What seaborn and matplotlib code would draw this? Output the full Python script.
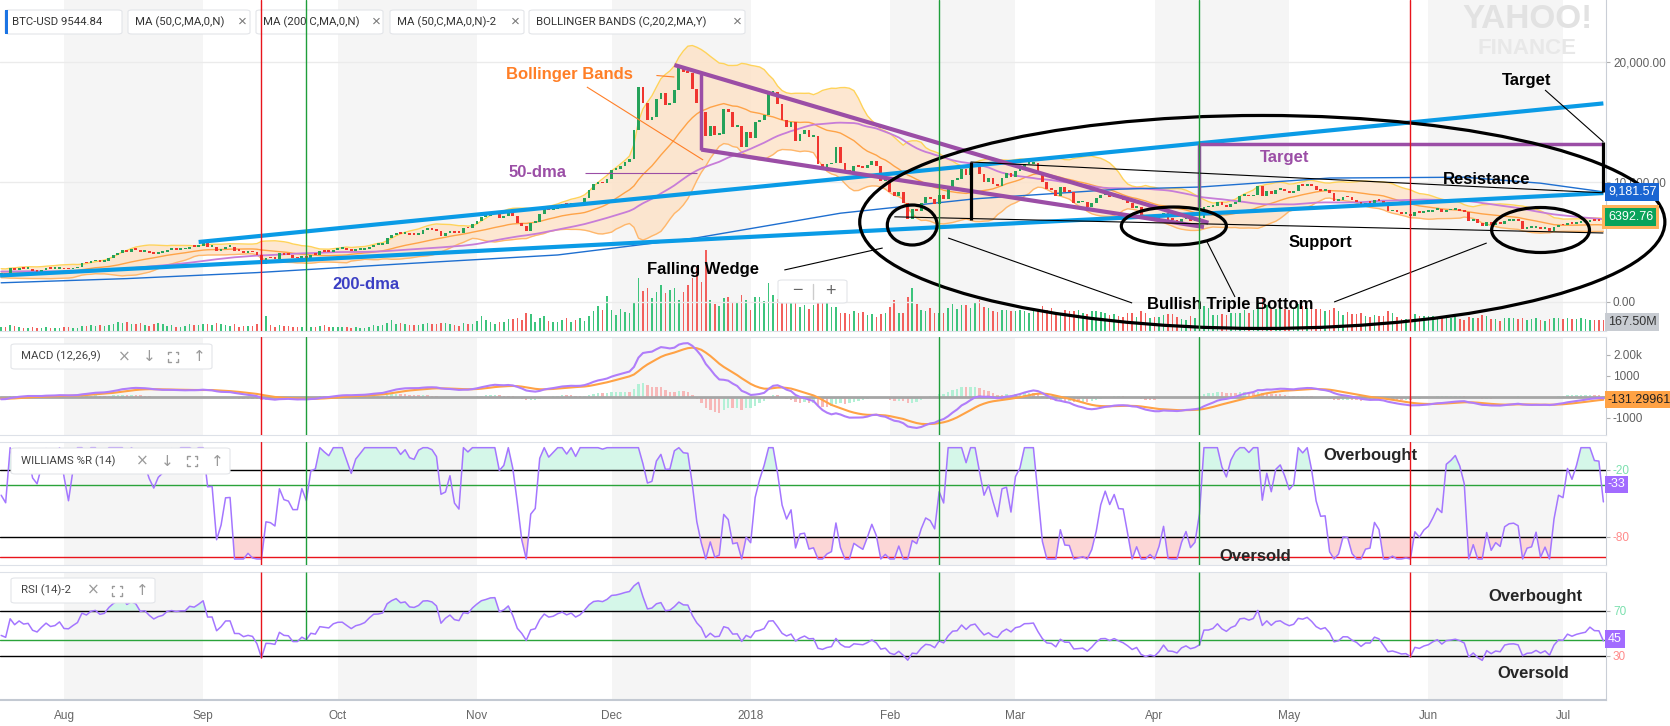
import numpy as np
import pandas as pd
import matplotlib
matplotlib.use("Agg")
import matplotlib.pyplot as plt
import matplotlib.dates as mdates
import matplotlib.transforms as mtransforms
from matplotlib.patches import Ellipse, FancyBboxPatch, Rectangle
import seaborn as sns

# daily closes (June / early July 2017 only warm up the indicators)
close_2017_06 = [2407, 2488, 2515, 2511, 2687, 2863, 2732, 2805, 2823, 2947, 2958, 2659, 2717, 2507, 2464,
                 2518, 2655, 2549, 2589, 2721, 2689, 2705, 2745, 2590, 2589, 2478, 2553, 2558, 2544, 2481]
close_2017_07 = [2434, 2507, 2565, 2601, 2602, 2609, 2481, 2560, 2507, 2330, 2309, 2406, 2358, 2233, 1998, 1930,
                 2228, 2319, 2273, 2817, 2667, 2810, 2730, 2755, 2576, 2529, 2671, 2810, 2726, 2758, 2875]
close_2017_08 = [2718, 2710, 2805, 2895, 3253, 3213, 3379, 3420, 3342, 3381, 3651, 3884, 4073, 4326, 4182, 4376,
                 4331, 4160, 4194, 4088, 4001, 4100, 4151, 4334, 4372, 4353, 4382, 4382, 4579, 4565, 4703]
close_2017_09 = [4892, 4579, 4582, 4237, 4377, 4597, 4599, 4229, 4226, 4123, 4162, 4130, 3882, 3155, 3637,
                 3626, 3583, 4066, 3925, 3906, 3631, 3630, 3792, 3682, 3927, 3892, 4209, 4185, 4164, 4338]
close_2017_10 = [4404, 4409, 4318, 4229, 4329, 4371, 4439, 4611, 4773, 4781, 4827, 5325, 5563, 5739, 5647, 5711,
                 5603, 5591, 5708, 6011, 6031, 6008, 5931, 5527, 5750, 5904, 5780, 5753, 6154, 6130, 6468]
close_2017_11 = [6767, 7078, 7207, 7379, 7407, 7022, 7144, 7460, 7143, 6618, 6357, 5950, 6559, 6635, 7316,
                 7871, 7708, 7790, 8036, 8201, 8072, 8244, 8064, 8260, 8696, 9331, 9819, 9917, 9888, 10233]
close_2017_12 = [10975, 11074, 11323, 11658, 11917, 14292, 17899, 16570, 15178, 15455, 16937, 17415, 16408, 16564,
                 17706, 19497, 19140, 19115, 17776, 16624, 15802, 13831, 14699, 13926, 14027, 16099, 15838, 14607,
                 14656, 12952, 14157]
close_2018_01 = [13657, 14982, 15201, 15599, 17430, 17527, 16477, 15170, 14595, 14973, 13405, 13981, 14360, 13773,
                 13819, 11490, 11188, 11474, 11607, 12899, 11600, 10931, 10868, 11359, 11259, 11171, 11441, 11787,
                 11296, 10106, 10221]
close_2018_02 = [9171, 8830, 9174, 8277, 6955, 7754, 7621, 8265, 8736, 8621, 8129, 8927, 8598, 9494, 10166,
                 10233, 11112, 10551, 11225, 11403, 10690, 10005, 10301, 9813, 9664, 10366, 10725, 10397]
close_2018_03 = [10951, 11086, 11489, 11512, 11573, 10779, 9965, 9395, 9337, 8866, 9578, 9205, 9194, 8269, 8300,
                 8338, 7916, 8223, 8630, 8913, 8929, 8729, 8879, 8668, 8495, 8209, 7834, 7954, 7165, 6891, 6973]
close_2018_04 = [6845, 7083, 7456, 6853, 6812, 6636, 6912, 7024, 6771, 6834, 6968, 7890, 7895, 8004, 8355,
                 8058, 7903, 8163, 8294, 8845, 8895, 8803, 8930, 9697, 8845, 9282, 8987, 9348, 9419, 9240]
close_2018_05 = [9119, 9235, 9744, 9700, 9859, 9655, 9373, 9234, 9325, 9043, 8441, 8504, 8723, 8716, 8510, 8368,
                 8094, 8250, 8247, 8514, 8419, 8042, 7557, 7587, 7480, 7355, 7368, 7136, 7473, 7406, 7494]
close_2018_06 = [7541, 7644, 7720, 7514, 7633, 7653, 7679, 7624, 7531, 6786, 6906, 6582, 6349, 6675, 6456,
                 6550, 6499, 6734, 6770, 6777, 6730, 6083, 6163, 6173, 6250, 6094, 6157, 5904, 6218, 6404]
close_2018_07 = [6385, 6614, 6529, 6598, 6639, 6673, 6857, 6747, 6742, 6392.76]

# daily volume (bar heights)
vol_2017_07 = [1.1, 1.0, 1.6, 1.3, 1.0, 0.8, 0.8, 1.2, 0.9, 0.9, 1.2, 0.9, 0.8, 0.9]
vol_2017_08 = [1.1, 1.0, 0.9, 0.9, 1.4, 1.3, 1.6, 1.3, 1.7, 1.4, 1.7, 1.9, 2.5, 2.3, 2.6, 2.0, 2.0, 2.1, 1.6,
               1.5, 2.0, 2.2, 1.8, 1.4, 1.6, 1.2, 1.1, 1.4, 1.8, 1.6, 1.7]
vol_2017_09 = [1.8, 2.0, 1.7, 2.3, 2.0, 1.6, 1.4, 1.8, 1.1, 1.3, 1.4, 1.5, 1.9, 2.3, 4.1, 1.6, 1.2, 1.6, 1.4,
               1.3, 1.2, 1.0, 1.0, 0.8, 1.0, 1.1, 1.4, 1.6, 1.2, 1.1]
vol_2017_10 = [1.2, 1.2, 1.1, 0.9, 1.0, 0.9, 0.8, 1.1, 1.6, 1.4, 1.6, 2.1, 2.9, 1.9, 2.1, 2.0, 1.7, 1.6, 1.7,
               2.0, 2.2, 1.8, 1.9, 2.3, 2.2, 1.9, 1.7, 1.3, 2.3, 1.8, 2.0]
vol_2017_11 = [2.7, 4.0, 2.9, 2.6, 2.0, 2.6, 2.5, 3.4, 3.2, 3.7, 3.1, 5.0, 4.7, 2.6, 3.7, 4.0, 2.8, 2.4, 2.6,
               3.1, 3.7, 2.6, 3.1, 3.5, 2.8, 4.0, 5.4, 6.8, 5.8, 9.6]
vol_2017_12 = [5.8, 4.3, 5.9, 5.3, 5.0, 7.8, 14.6, 11.1, 11.8, 9.1, 10.7, 12.5, 10.3, 11.3, 11.9, 8.4, 10.8,
               12.6, 14.4, 17.5, 13.3, 22.2, 8.5, 7.5, 6.8, 9.0, 9.3, 7.7, 7.6, 9.8, 8.4]
vol_2018_01 = [5.7, 9.2, 9.3, 8.3, 13.1, 9.9, 8.7, 10.4, 9.2, 10.1, 9.1, 6.7, 7.0, 6.1, 7.0, 10.4, 11.1, 7.8,
               6.7, 6.7, 5.0, 5.0, 4.7, 5.4, 4.9, 5.3, 4.3, 4.7, 3.9, 4.7, 4.8]
vol_2018_02 = [6.5, 8.6, 5.0, 4.8, 9.3, 11.8, 7.4, 5.8, 5.5, 6.3, 4.9, 4.9, 5.0, 6.4, 7.4, 5.9, 7.1, 7.2, 6.3,
               7.7, 8.4, 6.5, 6.3, 5.6, 5.1, 5.7, 5.8, 5.6]
vol_2018_03 = [5.6, 5.8, 5.6, 4.9, 5.6, 5.7, 6.9, 5.7, 6.4, 5.1, 5.0, 5.8, 5.4, 5.5, 5.7, 4.8, 4.6, 5.5, 5.6,
               5.2, 4.9, 4.5, 4.6, 4.2, 3.9, 4.8, 4.8, 3.8, 5.4, 5.0, 3.5]
vol_2018_04 = [3.8, 3.8, 4.5, 4.6, 4.6, 3.8, 3.2, 3.0, 4.1, 3.7, 4.1, 6.8, 6.3, 4.5, 4.5, 4.6, 4.4, 4.8, 4.8,
               5.0, 5.8, 4.9, 5.7, 8.2, 9.0, 7.2, 5.9, 5.9, 6.2, 6.0]
vol_2018_05 = [5.7, 6.2, 7.5, 6.8, 6.3, 5.9, 6.0, 6.0, 5.6, 5.7, 6.3, 5.4, 4.3, 5.1, 4.7, 4.6, 4.8, 4.2, 3.8,
               4.5, 4.2, 4.0, 5.4, 4.8, 3.8, 3.2, 3.2, 4.1, 4.7, 4.1, 4.2]
vol_2018_06 = [4.0, 4.0, 3.7, 3.9, 4.0, 3.7, 3.8, 3.3, 3.1, 3.9, 3.7, 3.7, 4.5, 4.1, 3.2, 3.2, 2.8, 3.7, 3.7,
               3.7, 3.2, 3.7, 3.0, 3.3, 3.5, 3.1, 2.8, 3.2, 3.7, 3.7]
vol_2018_07 = [3.3, 3.6, 3.3, 3.3, 3.5, 3.2, 3.0, 2.9, 2.9, 3.1]

# 200-dma
ma200_dates = ["2017-07-18", "2017-08-15", "2017-09-13", "2017-10-15", "2017-11-19", "2017-12-20",
               "2018-01-21", "2018-02-20", "2018-03-24", "2018-04-11", "2018-05-10", "2018-06-09",
               "2018-06-26", "2018-07-10"]
ma200_values = [1600, 1950, 2450, 3170, 3920, 5350, 7400, 8600, 9400, 9580, 10330, 10400, 9900, 9180]

months = ["Aug", "Sep", "Oct", "Nov", "Dec", "2018", "Feb", "Mar", "Apr", "May", "Jun", "Jul"]
month_starts = ["2017-08-01", "2017-09-01", "2017-10-01", "2017-11-01", "2017-12-01", "2018-01-01",
                "2018-02-01", "2018-03-01", "2018-04-01", "2018-05-01", "2018-06-01", "2018-07-01"]
shaded = [("2017-08-01", "2017-09-01"), ("2017-10-01", "2017-11-01"), ("2017-12-01", "2018-01-01"),
          ("2018-02-01", "2018-03-01"), ("2018-04-01", "2018-05-01"), ("2018-06-01", "2018-07-01")]


def daily(blocks):
    return pd.concat([pd.Series(v, index=pd.date_range(s, periods=len(v), freq="D")) for s, v in blocks])


close = daily([("2017-06-01", close_2017_06), ("2017-07-01", close_2017_07), ("2017-08-01", close_2017_08),
               ("2017-09-01", close_2017_09), ("2017-10-01", close_2017_10), ("2017-11-01", close_2017_11),
               ("2017-12-01", close_2017_12), ("2018-01-01", close_2018_01), ("2018-02-01", close_2018_02),
               ("2018-03-01", close_2018_03), ("2018-04-01", close_2018_04), ("2018-05-01", close_2018_05),
               ("2018-06-01", close_2018_06), ("2018-07-01", close_2018_07)]).astype(float)
volume = daily([("2017-07-18", vol_2017_07), ("2017-08-01", vol_2017_08), ("2017-09-01", vol_2017_09),
                ("2017-10-01", vol_2017_10), ("2017-11-01", vol_2017_11), ("2017-12-01", vol_2017_12),
                ("2018-01-01", vol_2018_01), ("2018-02-01", vol_2018_02), ("2018-03-01", vol_2018_03),
                ("2018-04-01", vol_2018_04), ("2018-05-01", vol_2018_05), ("2018-06-01", vol_2018_06),
                ("2018-07-01", vol_2018_07)])

# indicators
df = pd.DataFrame({"close": close})
df["open"] = df["close"].shift(1)
df["ma50"] = df["close"].rolling(50, min_periods=1).mean()
df["bb_mid"] = df["close"].rolling(20).mean()
sd = df["close"].rolling(20).std(ddof=0)
df["bb_up"] = df["bb_mid"] + 2 * sd
df["bb_lo"] = df["bb_mid"] - 2 * sd
macd = df["close"].ewm(span=12, adjust=False).mean() - df["close"].ewm(span=26, adjust=False).mean()
df["macd"] = macd
df["signal"] = macd.ewm(span=9, adjust=False).mean()
df["hist"] = df["macd"] - df["signal"]
delta = df["close"].diff()
gain = delta.clip(lower=0).ewm(alpha=1 / 14, adjust=False).mean()
loss = (-delta.clip(upper=0)).ewm(alpha=1 / 14, adjust=False).mean()
df["rsi"] = 100 - 100 / (1 + gain / loss)
hi14 = df["close"].rolling(14).max()
lo14 = df["close"].rolling(14).min()
df["wr"] = (hi14 - df["close"]) / (hi14 - lo14) * -100
df = df.loc["2017-07-18":].copy()
df["volume"] = volume.reindex(df.index)

x = mdates.date2num(df.index.to_pydatetime())
up = (df["close"] >= df["open"]).values


def dn(s):
    return mdates.date2num(pd.Timestamp(s))


sns.set_style("white")
plt.rcParams["font.family"] = ["Liberation Sans", "DejaVu Sans"]

W, H = 1670, 726
fig = plt.figure(figsize=(W / 100, H / 100), dpi=100)


def fx(px):
    return px / W


def fy(py):
    return 1 - py / H


def panel(top, bottom):
    return fig.add_axes([0, 1 - bottom / H, 1606 / W, (bottom - top) / H])


ax_p = panel(0, 331)
ax_v = ax_p.twinx()
ax_m = panel(337, 435)
ax_w = panel(442, 565)
ax_r = panel(572, 700)
ax_v.set_zorder(0)
ax_p.set_zorder(1)
ax_p.patch.set_visible(False)

x_left = dn("2017-08-01") - 64 / 4.488
x_right = dn("2017-08-01") + (1606 - 64) / 4.488

for ax in (ax_v, ax_m, ax_w, ax_r):
    for a, b in shaded:
        ax.axvspan(dn(a), dn(b), color="#f5f5f5", lw=0, zorder=0)

for ax in (ax_p, ax_v, ax_m, ax_w, ax_r):
    ax.set_xlim(x_left, x_right)
    ax.set_xticks([])
    for s in ("left", "top"):
        ax.spines[s].set_visible(False)
    ax.spines["right"].set_color("#c9ced6")
    ax.spines["bottom"].set_color("#dde1e8")
for ax in (ax_m, ax_w, ax_r):
    ax.spines["top"].set_visible(True)
    ax.spines["top"].set_color("#dde1e8")
ax_v.spines["bottom"].set_visible(False)
ax_v.spines["right"].set_visible(False)


def line(ax, xs, ys, color, lw, z=3):
    sns.lineplot(x=xs, y=np.asarray(ys, dtype=float), ax=ax, color=color, linewidth=lw,
                 estimator=None, sort=False, legend=False, zorder=z)


# ---- price panel
for lvl in (0, 10000, 20000):
    ax_p.axhline(lvl, color="#ebebeb", lw=1, zorder=0.5)

ax_p.fill_between(x, df["bb_lo"], df["bb_up"], color="#fde3c9", alpha=0.85, lw=0, zorder=1)
line(ax_p, x, df["bb_up"], "#ffd35a", 1.0, 2)
line(ax_p, x, df["bb_lo"], "#ffb76b", 1.0, 2)
line(ax_p, x, df["bb_mid"], "#ffa347", 1.0, 2)
line(ax_p, x, df["ma50"], "#c77dd8", 1.3, 2)
line(ax_p, mdates.date2num(pd.to_datetime(ma200_dates).to_pydatetime()), ma200_values, "#1e6fd0", 1.0, 2)

body_lo = df[["open", "close"]].min(axis=1)
body_h = (df["close"] - df["open"]).abs().clip(lower=150)
ax_p.bar(x, body_h, bottom=body_lo, width=0.62, color=np.where(up, "#25a25a", "#f0352f"), lw=0, zorder=4)

ax_v.bar(x, df["volume"], width=0.35, color=np.where(up, "#3cc47c", "#f2605c"), lw=0, zorder=1)
ax_v.set_ylim(0, 22.2 * 331 / 81)
ax_v.set_yticks([])

ax_p.set_ylim((302 - 331) / 0.012, 302 / 0.012)
ax_p.yaxis.tick_right()
ax_p.set_yticks([0, 10000, 20000])
ax_p.set_yticklabels(["0.00", "10,000.00", "20,000.00"])

BLUE = "#0a9be6"
PURPLE = "#9b4ea6"


def seg(ax, p1, p2, color="black", lw=0.8, z=6):
    ax.plot([dn(p1[0]), dn(p2[0])], [p1[1], p2[1]], color=color, lw=lw, zorder=z,
            solid_capstyle="butt", clip_on=False)


# trend channel
seg(ax_p, ("2017-08-31", 5000), ("2018-07-10", 16550), BLUE, 3.0, 5)
seg(ax_p, ("2017-07-17 18:00", 2210), ("2018-07-10", 9080), BLUE, 3.0, 5)
# falling wedge
seg(ax_p, ("2017-12-15", 19750), ("2018-04-13", 6600), PURPLE, 3.0, 5)
seg(ax_p, ("2017-12-21", 12700), ("2018-04-12", 6250), PURPLE, 3.0, 5)
seg(ax_p, ("2017-12-21", 12700), ("2017-12-21", 19000), PURPLE, 2.5, 5)
# measured move target
seg(ax_p, ("2018-04-11", 7900), ("2018-04-11", 13140), PURPLE, 2.5, 5)
seg(ax_p, ("2018-04-11", 13140), ("2018-07-10", 13140), PURPLE, 2.5, 5)
seg(ax_p, ("2018-07-10", 9150), ("2018-07-10", 13350), "black", 2.3)
seg(ax_p, ("2018-02-19", 6833), ("2018-02-19", 11667), "black", 2.3)
# resistance / support
seg(ax_p, ("2018-02-19", 11667), ("2018-07-10", 9100))
seg(ax_p, ("2018-02-02", 7100), ("2018-07-10", 5750))
# leaders
seg(ax_p, ("2018-06-27", 17667), ("2018-07-10", 13350))
seg(ax_p, ("2018-01-08 12:00", 2667), ("2018-01-30 10:00", 4500))
seg(ax_p, ("2018-02-14", 5333), ("2018-03-27", -83))
seg(ax_p, ("2018-04-12 17:00", 5000), ("2018-04-18 22:00", 417))
seg(ax_p, ("2018-05-11", 0), ("2018-06-14", 4917))
seg(ax_p, ("2017-12-11", 18875), ("2017-12-15", 18750), "#ff7f27", 0.8)
seg(ax_p, ("2017-11-25 12:00", 17917), ("2017-12-21 10:00", 11833), "#ff7f27", 0.8)
seg(ax_p, ("2017-11-25", 10750), ("2017-12-20", 10750), PURPLE, 0.8)

for cx, cy, w, h in [("2018-02-06", 6417, 11.1, 3333), ("2018-04-25", 6670, 179.4, 17750),
                     ("2018-04-05 07:00", 6333, 23.4, 3167), ("2018-06-26", 6000, 21.8, 3750)]:
    ax_p.add_patch(Ellipse((dn(cx), cy), w, h, fill=False, ec="black", lw=2.3, zorder=6, clip_on=False))

labels = [("Bollinger Bands", "2017-11-21 17:00", 18917, "#ff7f27"),
          ("50-dma", "2017-11-14 14:00", 10833, PURPLE),
          ("200-dma", "2017-10-07 07:00", 1417, "#3b3fc4"),
          ("Falling Wedge", "2017-12-21 10:00", 2667, "black"),
          ("Bullish Triple Bottom", "2018-04-17 19:00", -167, "black"),
          ("Support", "2018-05-07 22:00", 5000, "black"),
          ("Resistance", "2018-06-14 00:00", 10167, "black"),
          ("Target", "2018-04-30", 12083, PURPLE),
          ("Target", "2018-06-23", 18500, "black")]
for txt, d, yv, col in labels:
    ax_p.text(dn(d), yv, txt, color=col, fontsize=12, fontweight="bold", ha="center", va="center", zorder=7)

# ---- MACD panel
hist_col = np.where(df["hist"].diff().fillna(0).values >= 0, "#b3f0d6", "#f7b8b8")
ax_m.bar(x, df["hist"], width=0.55, color=hist_col, lw=0, zorder=2)
ax_m.axhline(0, color="#a6a6a6", lw=2, zorder=3)
line(ax_m, x, df["signal"], "#ffa245", 1.5, 4)
line(ax_m, x, df["macd"], "#b07dfa", 1.5, 5)
ax_m.set_ylim(-1810, 2857)
ax_m.yaxis.tick_right()
ax_m.set_yticks([-1000, 1000, 2000])
ax_m.set_yticklabels(["-1000", "1000", "2.00k"])

# ---- Williams %R panel
wr = df["wr"].values
ax_w.fill_between(x, wr, -20, where=wr > -20, interpolate=True, color="#d5f7e9", lw=0, zorder=2)
ax_w.fill_between(x, wr, -80, where=wr < -80, interpolate=True, color="#fcd6d6", lw=0, zorder=2)
for lvl, col in [(-20, "black"), (-80, "black"), (-33.4, "#2aa33a"), (-98.5, "#e8141b")]:
    ax_w.axhline(lvl, color=col, lw=1, zorder=3)
line(ax_w, x, wr, "#a476ff", 1.1, 4)
ax_w.set_ylim(-105.4, 5.1)
ax_w.yaxis.tick_right()
ax_w.set_yticks([-80, -20])
ax_w.set_yticklabels(["-80", "-20"])

# ---- RSI panel
rsi = df["rsi"].values
ax_r.fill_between(x, rsi, 70, where=rsi > 70, interpolate=True, color="#d5f7e9", lw=0, zorder=2)
ax_r.fill_between(x, rsi, 30, where=rsi < 30, interpolate=True, color="#fcd6d6", lw=0, zorder=2)
for lvl, col in [(70, "black"), (30, "black"), (44.2, "#2aa33a")]:
    ax_r.axhline(lvl, color=col, lw=1, zorder=3)
line(ax_r, x, rsi, "#a476ff", 1.1, 4)
ax_r.set_ylim(-9.1, 104.4)
ax_r.yaxis.tick_right()
ax_r.set_yticks([30, 70])
ax_r.set_yticklabels(["30", "70"])
ax_r.spines["bottom"].set_color("#c3c9d2")
ax_r.spines["bottom"].set_linewidth(1.5)
ax_r.set_xticks([dn(d) for d in month_starts])
ax_r.set_xticklabels(months)
ax_r.tick_params(axis="x", length=4, color="#c3c9d2", labelsize=8.5, labelcolor="#666666", pad=3)

for ax in (ax_p, ax_m, ax_w, ax_r):
    ax.tick_params(axis="y", direction="out", length=3, pad=2, color="#b0b0b0",
                   labelsize=8.5, labelcolor="#606060")
for t, c in zip(ax_w.get_yticklabels(), ["#ff8a8a", "#7be0ae"]):
    t.set_color(c)
for t, c in zip(ax_r.get_yticklabels(), ["#ff8a8a", "#7be0ae"]):
    t.set_color(c)

ax_w.text(dn("2018-05-19"), -7.4, "Overbought", fontsize=12, fontweight="bold", ha="center", va="center", zorder=7)
ax_w.text(dn("2018-04-23 10:00"), -97.9, "Oversold", fontsize=12, fontweight="bold", ha="center", va="center", zorder=7)
ax_r.text(dn("2018-06-24 19:00"), 82.4, "Overbought", fontsize=12, fontweight="bold", ha="center", va="center", zorder=7)
ax_r.text(dn("2018-06-24 07:00"), 14, "Oversold", fontsize=12, fontweight="bold", ha="center", va="center", zorder=7)

# ---- marker lines
rsi_s = df["rsi"]
for d, col in [("2017-09-14", "#e8141b"), ("2017-09-24", "#1e9e3a"), ("2018-02-12", "#1e9e3a"),
               ("2018-04-11", "#1e9e3a"), ("2018-05-28", "#e8141b")]:
    for ax in (ax_p, ax_m, ax_w):
        ax.axvline(dn(d), color=col, lw=1, zorder=16)
    ax_r.vlines(dn(d), rsi_s.loc[d], 104.4, color=col, lw=1, zorder=6)


# ---- value tags on the right
def tag(ax, yv, text, fc, tc, pad=0.22):
    tr = mtransforms.blended_transform_factory(ax.transAxes, ax.transData)
    ax.text(1.0012, yv, text, transform=tr, ha="left", va="center", fontsize=9, color=tc, zorder=20,
            bbox=dict(boxstyle=f"square,pad={pad}", fc=fc, ec="none"), clip_on=False)


tag(ax_p, 9181.57, "9,181.57", "#1a66d2", "white")
tag(ax_p, 7083, "6392.76", "#ffb35c", "#ffb35c", 0.45)
tag(ax_p, 7083, "6392.76", "#0aa35b", "white")
tag(ax_p, -1667, "167.50M", "#c8ccd2", "#333333")
tag(ax_m, -131.3, "-131.29961", "#ffa245", "#222222")
tag(ax_w, -33, "-33", "#a26bff", "white")
tag(ax_r, 45, "45", "#a26bff", "white")


# ---- chips and UI text
def box(ax, x0, y0, x1, y1, z=15):
    ax.add_patch(FancyBboxPatch((fx(x0), fy(y1)), (x1 - x0) / W, (y1 - y0) / H,
                                boxstyle="round,pad=0,rounding_size=0.0025", transform=fig.transFigure,
                                fc="white", ec="#e3e5e9", lw=0.8, clip_on=False, zorder=z))


def ftext(ax, px, py, s, **kw):
    kw.setdefault("zorder", 15.5)
    ax.text(fx(px), fy(py), s, transform=fig.transFigure, va="center", clip_on=False, **kw)


def corners(ax, cx, cy, r=5, k=2.5):
    # the "expand" icon: four open corners of a square
    for sx in (-1, 1):
        for sy in (-1, 1):
            px, py = cx + sx * r, cy + sy * r
            ax.plot([fx(px - sx * k), fx(px), fx(px)], [fy(py), fy(py), fy(py - sy * k)],
                    transform=fig.transFigure, color="#9a9a9a", lw=1, clip_on=False, zorder=15.5)


chips = [(5, 122, "BTC-USD 9544.84", None), (128, 250, "MA (50,C,MA,0,N)", 242),
         (256, 383, "MA (200 C,MA,0,N)", 376), (390, 524, "MA (50,C,MA,0,N)-2", 515),
         (529, 745, "BOLLINGER BANDS (C,20,2,MA,Y)", 737)]
for x0, x1, label, xx in chips:
    box(ax_p, x0, 10, x1, 34)
    ftext(ax_p, x0 + 7, 22, label, fontsize=8.2, color="#333333", family="Roboto")
    if xx:
        ftext(ax_p, xx, 22, "×", fontsize=11, color="#777777", ha="center")
ax_p.add_patch(Rectangle((fx(5), fy(34)), 3 / W, 24 / H, transform=fig.transFigure, fc="#1b74e4",
                         lw=0, clip_on=False, zorder=15.6))

ftext(ax_p, 1528, 19, "YAHOO!", fontsize=24, color="#e2e2e2", ha="center", fontweight="bold", zorder=0.2)
ftext(ax_p, 1527, 48, "FINANCE", fontsize=16, color="#e8e8e8", ha="center", fontweight="bold", zorder=0.2)

box(ax_p, 778, 280, 847, 303)
ftext(ax_p, 797, 291, "−", fontsize=13, color="#666666", ha="center")
ftext(ax_p, 830, 291, "+", fontsize=13, color="#666666", ha="center")
ax_p.plot([fx(813), fx(813)], [fy(284), fy(299)], transform=fig.transFigure, color="#cccccc", lw=1,
          clip_on=False, zorder=15.5)

for ax, (x0, y0, x1, y1), label, icons in [
        (ax_m, (11, 344, 212, 369), "MACD (12,26,9)", [(124, "×"), (149, "↓"), (173, None), (199, "↑")]),
        (ax_w, (11, 448, 230, 474), "WILLIAMS %R (14)", [(142, "×"), (167, "↓"), (192, None), (217, "↑")]),
        (ax_r, (11, 578, 155, 603), "RSI (14)-2", [(93, "×"), (117, None), (142, "↑")])]:
    box(ax, x0, y0, x1, y1)
    cy = (y0 + y1) / 2
    ftext(ax, 21, cy, label, fontsize=8.2, color="#444444", family="Roboto")
    for ix, ic in icons:
        if ic is None:
            corners(ax, ix, cy)
        else:
            ftext(ax, ix, cy, ic, fontsize=11, color="#9a9a9a", ha="center", family=["DejaVu Sans"])

fig.savefig("out.png", dpi=100)
